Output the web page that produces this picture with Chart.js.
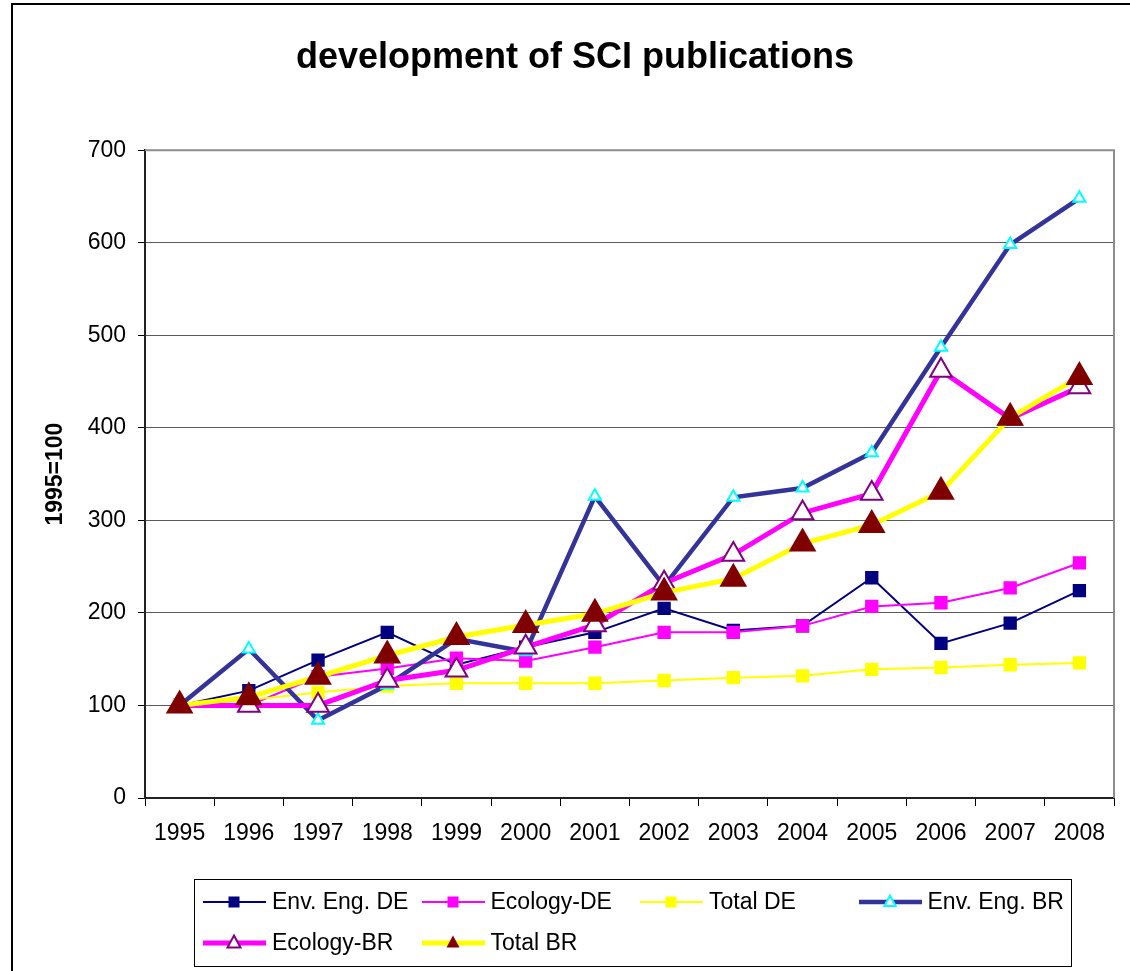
<!DOCTYPE html>
<html lang="en">
<head>
    <meta charset="UTF-8">
    <title>development of SCI publications</title>
    <script src="https://cdn.jsdelivr.net/npm/chart.js"></script>
    <style>
        body {
            margin: 0;
            background: #fff;
            font-family: 'Liberation Sans', Arial, sans-serif;
        }
        .wrap {
            position: relative;
            width: 1130px;
            height: 971px;
            overflow: hidden;
        }
        .frame {
            position: absolute;
            left: 11px;
            top: 3px;
            width: 2000px;
            height: 2000px;
            border-left: 2px solid #000;
            border-top: 2px solid #000;
        }
        #legend {
            position: absolute;
            left: 194px;
            top: 879px;
            width: 878px;
            height: 88px;
            border: 1.5px solid #000;
            box-sizing: border-box;
            padding: 1px 0 0 8px;
            display: grid;
            grid-template-columns: repeat(4, 218.5px);
            grid-auto-rows: 41px;
            font-size: 23px;
            color: #000;
        }
        .item { display: flex; align-items: center; white-space: nowrap; }
        .item svg { margin-right: 6px; flex: none; }
    </style>
</head>
<body>
    <div class="wrap">
        <canvas id="chart"></canvas>
        <div class="frame"></div>
        <div id="legend"></div>
    </div>

    <script>
        // values (index 1995 = 100)
        const years = ['1995', '1996', '1997', '1998', '1999', '2000', '2001', '2002', '2003', '2004', '2005', '2006', '2007', '2008'];
        const envEngDE  = [100, 116, 149, 179, 144, 163, 179, 205, 181, 186, 238, 167, 189, 224];
        const ecologyDE = [100, 100, 131, 140, 151, 148, 163, 179, 179, 186, 207, 211, 227, 254];
        const totalDE   = [100, 106, 114, 121, 124, 124, 124, 127, 130, 132, 139, 141, 144, 146];
        const envEngBR  = [100, 161, 84, 122, 172, 158, 326, 229, 325, 335, 373, 487, 598, 648];
        const ecologyBR = [100, 100, 100, 127, 138, 163, 187, 232, 263, 308, 329, 462, 410, 444];
        const totalBR   = [100, 109, 131, 154, 174, 187, 199, 222, 237, 275, 295, 331, 411, 455];
        const yTicks = [0, 100, 200, 300, 400, 500, 600, 700];

        const FONT = "'Liberation Sans', Arial, sans-serif";

        function series(label, data, line, width, style, radius, fill, stroke, order) {
            return {
                label, data, order,
                borderColor: line,
                borderWidth: width,
                tension: 0,
                pointStyle: style,
                pointRadius: radius,
                pointHoverRadius: radius,
                pointBackgroundColor: fill,
                pointBorderColor: stroke,
                pointBorderWidth: 2
            };
        }

        const datasets = [
            series('Env. Eng. DE', envEngDE, '#000080', 2, 'rect', 8, '#000080', '#000080', 5),
            series('Ecology-DE', ecologyDE, '#ff00ff', 2, 'rect', 8, '#ff00ff', '#ff00ff', 4),
            series('Total DE', totalDE, '#ffff00', 2, 'rect', 8, '#ffff00', '#ffff00', 3),
            series('Env. Eng. BR', envEngBR, '#333399', 4.5, 'triangle', 7, '#ffffff', '#00ffff', 2),
            series('Ecology-BR', ecologyBR, '#ff00ff', 5, 'triangle', 12.5, '#ffffff', '#800080', 1),
            series('Total BR', totalBR, '#ffff00', 5, 'triangle', 14, '#800000', '#800000', 0)
        ];

        // gray frame on the top and right side of the plot area
        const plotFrame = {
            id: 'plotFrame',
            beforeDatasetsDraw(chart) {
                const a = chart.chartArea, c = chart.ctx;
                c.save();
                c.strokeStyle = '#8c8c8c';
                c.lineWidth = 2;
                c.beginPath();
                c.moveTo(a.left, a.top);
                c.lineTo(a.right, a.top);
                c.lineTo(a.right, a.bottom);
                c.stroke();
                c.restore();
            }
        };

        new Chart(document.getElementById('chart'), {
            type: 'line',
            data: { labels: years, datasets },
            plugins: [plotFrame],
            options: {
                responsive: true,
                maintainAspectRatio: false,
                animation: false,
                layout: { padding: { left: 35, right: 15, top: 0, bottom: 0 } },
                plugins: {
                    legend: { display: false },
                    tooltip: { enabled: false },
                    title: {
                        display: true,
                        text: 'development of SCI publications',
                        color: '#000',
                        font: { family: FONT, size: 36, weight: 'bold' },
                        padding: { top: 36, bottom: 71 }
                    }
                },
                scales: {
                    x: {
                        offset: true,
                        grid: {
                            offset: true,
                            drawOnChartArea: false,
                            tickLength: 8,
                            tickColor: '#000'
                        },
                        border: { color: '#222', width: 2 },
                        ticks: {
                            color: '#000',
                            padding: 14,
                            maxRotation: 0,
                            font: { family: FONT, size: 23 }
                        },
                        afterFit: s => { s.height = 173; }
                    },
                    y: {
                        min: 0,
                        max: 700,
                        afterBuildTicks: s => { s.ticks = yTicks.map(v => ({ value: v })); },
                        grid: {
                            color: '#5a5a5a',
                            lineWidth: 1,
                            tickLength: 7,
                            tickColor: '#000'
                        },
                        border: { color: '#222', width: 2 },
                        ticks: {
                            color: '#000',
                            padding: 12,
                            font: { family: FONT, size: 23 }
                        },
                        title: {
                            display: true,
                            text: '1995=100',
                            color: '#000',
                            font: { family: FONT, size: 23, weight: 'bold' },
                            padding: { top: 7, bottom: 0 }
                        },
                        afterFit: s => { s.width = 110; }
                    }
                }
            }
        });

        // legend laid out like the original (4 columns, 2 rows)
        function sample(ds) {
            const cx = 31, cy = 10;
            let mark;
            if (ds.pointStyle === 'rect') {
                mark = `<rect x="${cx - 5.5}" y="${cy - 5.5}" width="11" height="11" fill="${ds.pointBackgroundColor}"/>`;
            } else {
                const r = ds.pointRadius > 10 ? 7.5 : 6.5;
                const pts = `${cx},${cy - r} ${cx + r * 0.87},${cy + r * 0.6} ${cx - r * 0.87},${cy + r * 0.6}`;
                const solid = ds.pointBackgroundColor === ds.pointBorderColor;
                mark = `<polygon points="${pts}" fill="${ds.pointBackgroundColor}" stroke="${ds.pointBorderColor}" stroke-width="${solid ? 0 : 2}"/>`;
            }
            return `<svg width="63" height="20"><line x1="0" y1="${cy}" x2="63" y2="${cy}" stroke="${ds.borderColor}" stroke-width="${ds.borderWidth}" stroke-linecap="round"/>${mark}</svg>`;
        }
        document.getElementById('legend').innerHTML = datasets
            .map(ds => `<div class="item">${sample(ds)}<span>${ds.label}</span></div>`)
            .join('');
    </script>
</body>
</html>
